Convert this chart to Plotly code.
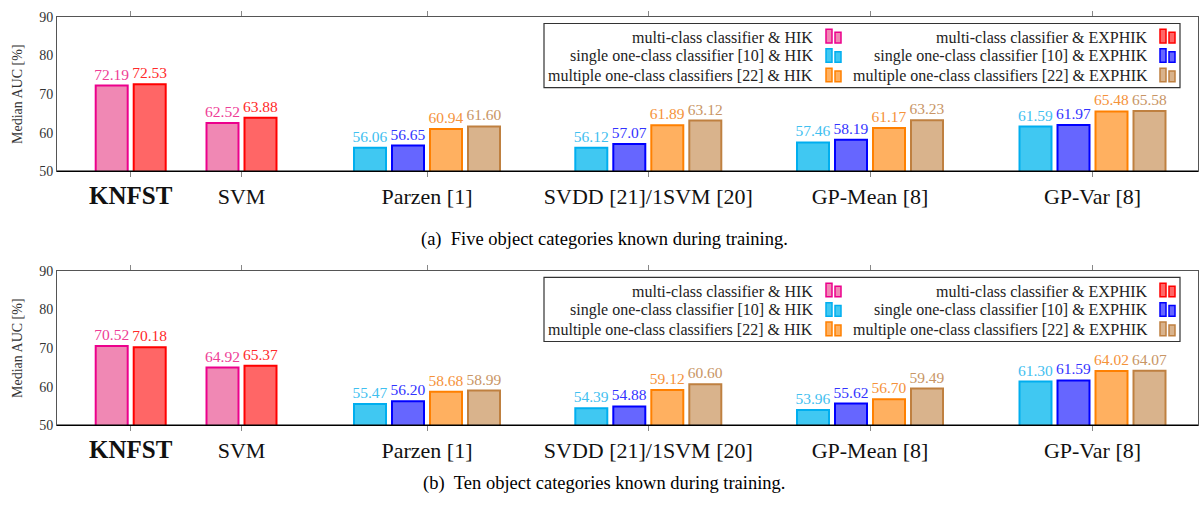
import plotly.graph_objects as go

# ---------------- data ----------------
categories = ["KNFST", "SVM", "Parzen [1]", "SVDD [21]/1SVM [20]", "GP-Mean [8]", "GP-Var [8]"]
tick_labels = ["<b><span style='font-size:25px'>KNFST</span></b>", "SVM", "Parzen [1]",
               "SVDD [21]/1SVM [20]", "GP-Mean [8]", "GP-Var [8]"]
series_names = [
    "multi-class classifier & HIK",
    "multi-class classifier & EXPHIK",
    "single one-class classifier [10] & HIK",
    "single one-class classifier [10] & EXPHIK",
    "multiple one-class classifiers [22] & HIK",
    "multiple one-class classifiers [22] & EXPHIK",
]
captions = ["(a)\u00a0\u00a0Five object categories known during training.",
            "(b)\u00a0\u00a0Ten object categories known during training."]

# (a) five known categories
multi_hik_a = [72.19, 62.52, None, None, None, None]
multi_exphik_a = [72.53, 63.88, None, None, None, None]
single_hik_a = [None, None, 56.06, 56.12, 57.46, 61.59]
single_exphik_a = [None, None, 56.65, 57.07, 58.19, 61.97]
multiple_hik_a = [None, None, 60.94, 61.89, 61.17, 65.48]
multiple_exphik_a = [None, None, 61.60, 63.12, 63.23, 65.58]

# (b) ten known categories
multi_hik_b = [70.52, 64.92, None, None, None, None]
multi_exphik_b = [70.18, 65.37, None, None, None, None]
single_hik_b = [None, None, 55.47, 54.39, 53.96, 61.30]
single_exphik_b = [None, None, 56.20, 54.88, 55.62, 61.59]
multiple_hik_b = [None, None, 58.68, 59.12, 56.70, 64.02]
multiple_exphik_b = [None, None, 58.99, 60.60, 59.49, 64.07]

panel_a = [multi_hik_a, multi_exphik_a, single_hik_a, single_exphik_a, multiple_hik_a, multiple_exphik_a]
panel_b = [multi_hik_b, multi_exphik_b, single_hik_b, single_exphik_b, multiple_hik_b, multiple_exphik_b]

# ---------------- styles / layout ----------------
W, H = 1199, 507
FONT = "Liberation Serif, Times New Roman, DejaVu Serif, serif"
line_colors = ["#ec008c", "#ff0000", "#00aeef", "#0000ff", "#ff8000", "#bf8040"]
fill_colors = ["#f088b4", "#ff6666", "#40c8f2", "#6666ff", "#ffb060", "#d9b38c"]
text_colors = ["#ee3d96", "#ff2a2a", "#3fc0f0", "#3333ff", "#f5923a", "#c89565"]

# x axis expressed in pixel units of the plot; group centres and bar slot offsets
group_centers = [130.7, 241.5, 427.0, 648.3, 870.0, 1092.5]
slot = 38.0
bar_w = 32.0
series_offsets = [-0.5, 0.5, -1.5, -0.5, 0.5, 1.5]

x0_px, x1_px = 57.0, 1198.0
panels_px = [(10.0, 169.3), (271.7, 431.0)]  # (top of 90, bottom at 50)


def px_x(p):
    return p / W


def px_y(p):
    return 1 - p / H


fig = go.Figure()
shapes = []
annotations = []

for pi, (panel, (ptop, pbot)) in enumerate(zip([panel_a, panel_b], panels_px)):
    xa = "x" if pi == 0 else "x2"
    ya = "y" if pi == 0 else "y2"
    for si, vals in enumerate(panel):
        xs, ys = [], []
        for gi, v in enumerate(vals):
            if v is None:
                continue
            xs.append(group_centers[gi] + series_offsets[si] * slot)
            ys.append(v)
        fig.add_trace(go.Bar(
            x=xs, y=ys, width=bar_w, name=series_names[si], showlegend=False,
            xaxis=xa, yaxis=ya,
            marker=dict(color=fill_colors[si], line=dict(color=line_colors[si], width=2)),
            texttemplate="%{y:.2f}", textposition="outside", constraintext="none",
            textfont=dict(family=FONT, size=15.5, color=text_colors[si]),
            hoverinfo="skip",
        ))

    # bottom axis line (black)
    shapes.append(dict(type="line", xref="paper", yref="paper",
                       x0=px_x(x0_px), x1=px_x(x1_px), y0=px_y(pbot), y1=px_y(pbot),
                       line=dict(color="black", width=1.5), layer="above"))

    # custom legend box
    off = ptop - 10.0
    shapes.append(dict(type="rect", xref="paper", yref="paper",
                       x0=px_x(544), x1=px_x(1180), y0=px_y(17 + off), y1=px_y(83 + off),
                       line=dict(color="#333", width=1.2), fillcolor="white", layer="above"))
    row_c = [31, 51, 71]
    col_text_right = [815, 1150]
    col_icon_left = [826, 1160]
    for si in range(6):
        col = si % 2
        row = si // 2
        cy = row_c[row] + off
        annotations.append(dict(xref="paper", yref="paper", x=px_x(col_text_right[col]),
                                y=px_y(cy), xanchor="right", yanchor="middle",
                                text=series_names[si], showarrow=False,
                                font=dict(family=FONT, size=16, color="#222")))
        ix = col_icon_left[col]
        shapes.append(dict(type="rect", xref="paper", yref="paper",
                           x0=px_x(ix), x1=px_x(ix + 6), y0=px_y(cy + 6), y1=px_y(cy - 8),
                           line=dict(color=line_colors[si], width=1.5),
                           fillcolor=fill_colors[si], layer="above"))
        shapes.append(dict(type="rect", xref="paper", yref="paper",
                           x0=px_x(ix + 9), x1=px_x(ix + 15), y0=px_y(cy + 6), y1=px_y(cy - 5),
                           line=dict(color=line_colors[si], width=1.5),
                           fillcolor=fill_colors[si], layer="above"))

    # y-axis title
    annotations.append(dict(xref="paper", yref="paper", x=px_x(18), y=px_y((ptop + pbot) / 2),
                            text="Median AUC [%]", textangle=-90, showarrow=False,
                            xanchor="center", yanchor="middle",
                            font=dict(family=FONT, size=14, color="#333")))
    # caption
    cap_y = 240 if pi == 0 else 491
    annotations.append(dict(xref="paper", yref="paper", x=px_x(604), y=px_y(cap_y),
                            text=captions[pi], showarrow=False, xanchor="center", yanchor="middle",
                            font=dict(family=FONT, size=18.5, color="black")))

xaxis_common = dict(
    domain=[px_x(x0_px), px_x(x1_px)], range=[x0_px, x1_px],
    tickvals=group_centers, ticktext=tick_labels, ticks="outside", ticklen=5,
    tickcolor="#888", mirror="ticks", showline=True, linecolor="#555", linewidth=1,
    showgrid=False, zeroline=False, tickfont=dict(family=FONT, size=22, color="#111"),
    fixedrange=True,
)
yaxis_common = dict(
    range=[50, 90], tickvals=[50, 60, 70, 80, 90], ticks="", showline=True, mirror=True,
    linecolor="#555", linewidth=1, showgrid=False, zeroline=False,
    tickfont=dict(family=FONT, size=14, color="#333"), fixedrange=True,
)
yaxis_right = dict(range=[50, 90], tickvals=[60, 70, 80], ticks="inside", ticklen=5,
                   tickcolor="#888", showticklabels=False, showgrid=False, zeroline=False,
                   side="right", fixedrange=True)

fig.update_layout(
    width=W, height=H, margin=dict(l=0, r=0, t=0, b=0),
    font=dict(family=FONT),
    paper_bgcolor="white", plot_bgcolor="white", barmode="overlay", showlegend=False,
    xaxis=dict(anchor="y", **xaxis_common),
    xaxis2=dict(anchor="y2", **xaxis_common),
    yaxis=dict(anchor="x", domain=[px_y(panels_px[0][1]), px_y(panels_px[0][0])], **yaxis_common),
    yaxis2=dict(anchor="x2", domain=[px_y(panels_px[1][1]), px_y(panels_px[1][0])], **yaxis_common),
    yaxis3=dict(overlaying="y", anchor="x", **yaxis_right),
    yaxis4=dict(overlaying="y2", anchor="x2", **yaxis_right),
    shapes=shapes, annotations=annotations,
)

fig.write_html(
    "out.html",
    config={"displayModeBar": False, "staticPlot": True},
    post_script="document.body.style.margin='0';document.body.style.padding='0';"
                "document.body.style.overflow='hidden';",
)
